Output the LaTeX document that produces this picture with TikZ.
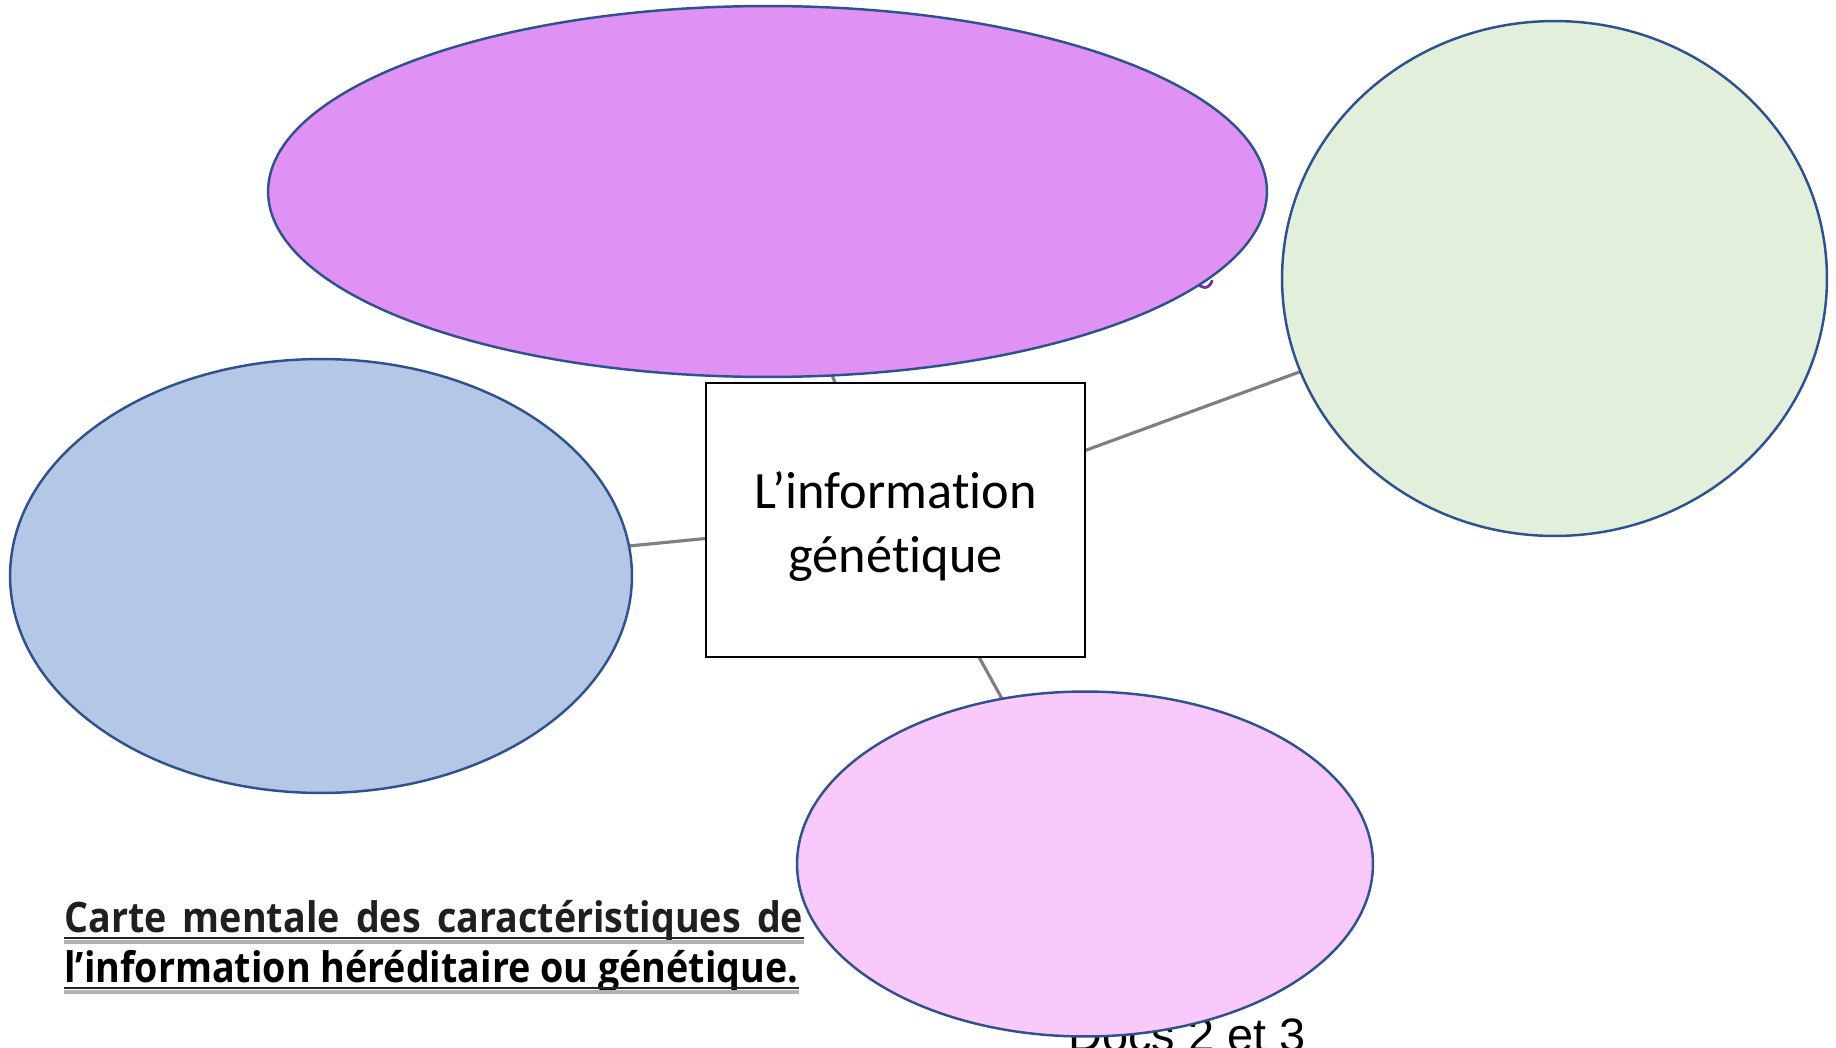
\documentclass[tikz,border=0pt]{standalone}
\usepackage{fontspec}
\usepackage{graphicx}
\usetikzlibrary{shapes.geometric,backgrounds}
\newfontfamily\carl{Carlito}[Ligatures=NoCommon]
\newfontfamily\arialf{Liberation Sans}
\newfontfamily\titlef{Open Sans}
\newsavebox\tlinebox
\definecolor{purpfill}{HTML}{DF92F3}
\definecolor{greenfill}{HTML}{E2EFDA}
\definecolor{bluefill}{HTML}{B4C7E7}
\definecolor{pinkfill}{HTML}{FAC9FB}
\definecolor{edgeblue}{HTML}{2F528F}
\definecolor{linkgray}{HTML}{7F7F7F}
\definecolor{txtpurple}{HTML}{7030A0}
\begin{document}
\sbox\tlinebox{\titlef\bfseries\fontsize{23.9pt}{28pt}\selectfont l’information héréditaire ou génétique.}%
\begin{tikzpicture}[x=0.02cm,y=-0.02cm,
  bubble/.style={ellipse,draw=edgeblue,line width=1.4pt,inner sep=0pt},
  centerbox/.style={rectangle,draw=black,line width=1.3pt,fill=white,minimum width=7.58cm,minimum height=5.48cm,align=center,font=\carl\fontsize{29.8pt}{36.4pt}\selectfont},
  link/.style={draw=linkgray,line width=1.8pt},
  titleline/.style={inner sep=0pt,anchor=base west,text=black!88,font=\titlef\bfseries\fontsize{23.9pt}{28pt}\selectfont},
  ulblack/.style={draw=black!85,line width=1.2pt},
  ulgray/.style={draw=black!30,line width=2.4pt}]
\useasboundingbox (0,0) rectangle (1836,1048);
% title
\node[titleline] (title1) at (64,932) {\resizebox{14.78cm}{\height}{\makebox[1.0068\wd\tlinebox][s]{Carte mentale des caractéristiques de}}};
\node[titleline] (title2) at (64,982) {\resizebox{14.68cm}{\height}{\usebox\tlinebox}};
\draw[ulgray] ([yshift=-0.2cm]title1.base west) -- ([yshift=-0.2cm]title1.base east);
\draw[ulblack] ([yshift=-0.12cm]title1.base west) -- ([yshift=-0.12cm]title1.base east);
\draw[ulgray] ([yshift=-0.2cm]title2.base west) -- ([yshift=-0.2cm]title2.base east);
\draw[ulblack] ([yshift=-0.12cm]title2.base west) -- ([yshift=-0.12cm]title2.base east);
% hidden text
\node[anchor=base west,inner sep=0pt,font=\arialf\fontsize{26.7pt}{32pt}\selectfont] (docs) at (1068,1051) {Docs 2 et 3};
\draw[txtpurple,line width=1.6pt,line cap=round] (1197,282) .. controls (1200,289) and (1209,290) .. (1212,281);
% bubbles
\node[bubble,fill=purpfill,minimum width=19.98cm,minimum height=7.42cm] (purple) at (767.5,191.5) {};
\node[bubble,fill=greenfill,minimum width=10.9cm,minimum height=10.3cm] (green) at (1554.5,278.5) {};
\node[bubble,fill=bluefill,minimum width=12.44cm,minimum height=8.68cm] (blue) at (321,576) {};
\node[bubble,fill=pinkfill,minimum width=11.52cm,minimum height=6.9cm] (pink) at (1085,864) {};
\node[centerbox] (box) at (895.5,520) {\rule{0pt}{0.95em}L’information\\génétique};
\begin{pgfonlayer}{background}
\fill[white] (0,0) rectangle (1836,1048);
\draw[link] ([xshift=-0.14cm]box.center) -- ([xshift=-0.14cm]purple.center);
\draw[link] (box.center) -- (green.center);
\draw[link] (box.center) -- (blue.center);
\draw[link] ([xshift=0.16cm]box.center) -- ([xshift=0.16cm]pink.center);
\end{pgfonlayer}
\end{tikzpicture}
\end{document}
